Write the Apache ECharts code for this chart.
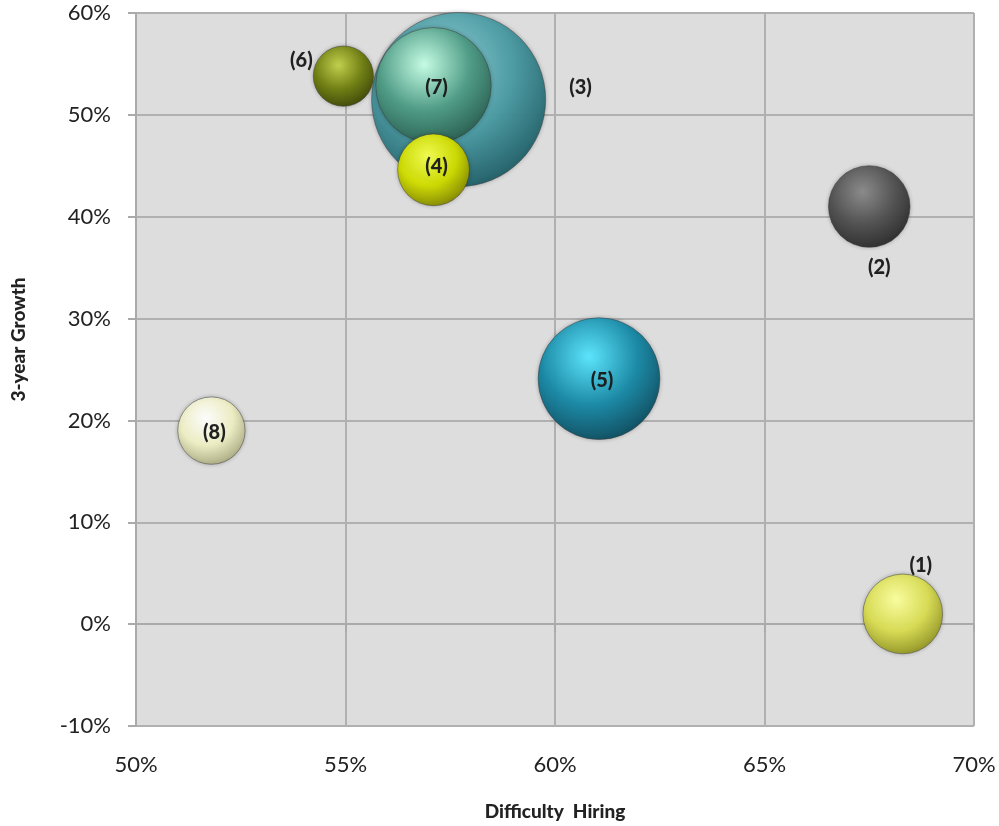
<!DOCTYPE html>
<html><head><meta charset="utf-8">
<script src="https://cdn.jsdelivr.net/npm/echarts@6/dist/echarts.min.js"></script>
<style>html,body{margin:0;padding:0;background:#fff}#c{width:999px;height:826px}</style>
</head><body><div id="c"></div>
<script>
var labels = ['(1)','(2)','(3)','(4)','(5)','(6)','(7)','(8)'];
var difficultyHiring = [68.3, 67.5, 57.7, 57.1, 61.05, 54.95, 57.1, 51.8];
var growth = [1.0, 41.0, 51.5, 44.6, 24.1, 53.8, 52.9, 19.0];
var bubbleSize = [21, 22, 100, 17, 49, 12, 44, 15];
var labelPos = ['top','bottom','right','inside','inside','left','inside','inside'];
var xTicks = ['50%','55%','60%','65%','70%'];
var yTicks = ['-10%','0%','10%','20%','30%','40%','50%','60%'];

var palette = [
  ['#fbff9e','#d8dc52','#8f9222'],
  ['#8a8a8a','#505050','#2a2a2a'],
  ['#8fd0d6','#4a9aa3','#1f5c64'],
  ['#f4ff50','#d0dc00','#7f8400'],
  ['#5ae6ff','#1889a6','#0d4a5c'],
  ['#c2d04a','#6f7e10','#3c4506'],
  ['#c8ffe6','#4f9c86','#2a5e50'],
  ['#ffffff','#eeeec4','#a8a880']
];
function grad(c){
  return {type:'radial',x:0.42,y:0.32,r:0.72,colorStops:[
    {offset:0,color:c[0]},{offset:0.55,color:c[1]},{offset:1,color:c[2]}]};
}
var maxD = 174;
var offsets = [[18,0],[10,0],[-5,-12],[3,-3],[3,2],[2,-16],[3,2],[3,2]];
var data = labels.map(function(l,i){
  return {
    value:[difficultyHiring[i], growth[i], bubbleSize[i]],
    name:l,
    symbolSize: maxD*Math.sqrt(bubbleSize[i]/100),
    itemStyle:{color:grad(palette[i]), opacity:0.97},
    label:{show:true, position:labelPos[i], formatter:l,
      distance: labelPos[i]==='right'?28:(labelPos[i]==='bottom'?10:(labelPos[i]==='top'?-2:2)),
      offset: offsets[i]}
  };
});
var order = data.map(function(d,i){return i;}).sort(function(a,b){return bubbleSize[b]-bubbleSize[a];});
var sorted = order.map(function(i){return data[i];});

var chart = echarts.init(document.getElementById('c'));
chart.setOption({
  animation:false,
  backgroundColor:'#ffffff',
  grid:{left:136,right:25,top:13,bottom:98,show:true,backgroundColor:'#dddddd',borderColor:'#b0b0b0',borderWidth:1},
  xAxis:{type:'value',min:50,max:70,interval:5,
    name:'Difficulty  Hiring',nameLocation:'middle',nameGap:76,
    nameTextStyle:{fontFamily:'Lato',fontWeight:900,fontSize:19,color:'#222'},
    axisLine:{show:true,lineStyle:{color:'#aaaaaa',width:2}},
    axisTick:{show:true,length:8,lineStyle:{color:'#aaaaaa',width:2}},
    axisLabel:{margin:28,fontFamily:'Lato',fontSize:22,color:'#222',
      formatter:function(v){return xTicks[Math.round((v-50)/5)];}},
    splitLine:{show:true,lineStyle:{color:'#b0b0b0',width:2}}},
  yAxis:{type:'value',min:-10,max:60,interval:10,
    name:'3-year Growth',nameLocation:'middle',nameGap:108,nameRotate:90,
    nameTextStyle:{fontFamily:'Lato',fontWeight:900,fontSize:19,color:'#222',padding:[0,0,0,60]},
    axisLine:{show:true,lineStyle:{color:'#aaaaaa',width:2}},
    axisTick:{show:true,length:8,lineStyle:{color:'#aaaaaa',width:2}},
    axisLabel:{margin:25,fontFamily:'Lato',fontSize:22,color:'#222',
      formatter:function(v){return yTicks[Math.round((v+10)/10)];}},
    splitLine:{show:true,lineStyle:{color:'#b0b0b0',width:2}}},
  series:[{type:'scatter',data:sorted,
    itemStyle:{borderColor:'rgba(60,60,60,0.5)',borderWidth:1,shadowBlur:4,shadowColor:'rgba(0,0,0,0.25)'},
    label:{fontFamily:'Lato',fontWeight:900,fontSize:20,color:'#1a1a1a'}}]
});
</script></body></html>
